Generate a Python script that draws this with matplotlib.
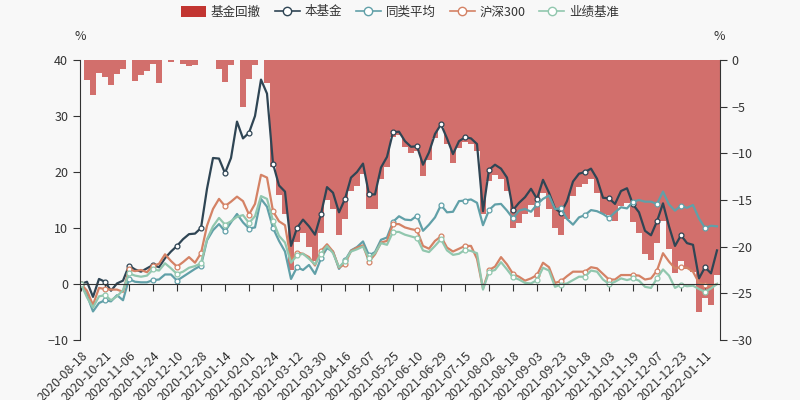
import numpy as np
import matplotlib
matplotlib.use("Agg")
import matplotlib.pyplot as plt
from matplotlib.patches import Patch
from matplotlib.lines import Line2D

plt.rcParams['font.family'] = ['Noto Sans CJK SC', 'DejaVu Sans']

# =========================
# 数据（每 3 个交易日取一个点，%）
# =========================
dates = ["2020-08-18", "2020-10-21", "2020-11-06", "2020-11-24", "2020-12-10",
         "2020-12-28", "2021-01-14", "2021-02-01", "2021-02-24", "2021-03-12",
         "2021-03-30", "2021-04-16", "2021-05-07", "2021-05-25", "2021-06-10",
         "2021-06-29", "2021-07-15", "2021-08-02", "2021-08-18", "2021-09-03",
         "2021-09-23", "2021-10-18", "2021-11-03", "2021-11-19", "2021-12-07",
         "2021-12-23", "2022-01-11"]
label_every = 12   # 每 12 个交易日一个标签
step = 3           # 数据点间隔（交易日）
n_days = 320

fund = [0.0, 0.4, -2.3, 0.9, 0.4, -1.2, 0.1, 0.6, 3.3, 2.6,
        2.2, 2.8, 3.4, 3.0, 4.6, 5.8, 6.8, 8.0, 8.9, 9.0,
        10.0, 17.0, 22.5, 22.4, 19.8, 22.5, 29.0, 26.0, 27.0, 30.0,
        36.5, 34.0, 21.5, 17.6, 16.5, 6.8, 10.0, 11.5, 10.3, 8.8,
        12.5, 17.3, 16.3, 12.8, 15.2, 19.0, 20.0, 21.5, 16.0, 16.0,
        20.8, 22.7, 27.1, 27.2, 25.5, 24.5, 24.6, 21.3, 23.5, 26.8,
        28.5, 26.0, 23.2, 25.5, 26.2, 26.0, 25.0, 13.0, 20.4, 21.3,
        20.6, 19.0, 13.2, 14.5, 15.5, 17.0, 15.2, 18.6, 16.3, 13.5,
        12.7, 14.8, 18.3, 19.7, 20.0, 20.6, 18.8, 15.4, 15.3, 14.3,
        16.6, 17.1, 14.2, 12.8, 9.5, 8.7, 11.2, 14.4, 10.3, 6.8,
        8.7, 7.3, 7.0, 1.0, 3.0, 1.9, 6.0]

peer = [0.0, -2.0, -4.9, -3.4, -2.9, -3.1, -2.0, -2.9, 0.9, 0.4,
        0.3, 0.3, 0.7, 0.8, 1.7, 1.7, 0.6, 1.3, 2.0, 2.7,
        3.3, 7.8, 9.6, 10.7, 9.4, 11.0, 12.5, 11.0, 9.9, 10.1,
        15.2, 13.8, 10.0, 7.7, 5.8, 0.9, 3.0, 2.5, 3.4, 1.8,
        4.6, 6.4, 5.8, 2.7, 4.2, 6.0, 6.6, 7.6, 5.1, 5.7,
        7.9, 8.3, 11.1, 12.1, 11.5, 11.4, 12.2, 9.5, 10.6, 11.9,
        14.1, 12.8, 12.9, 14.8, 14.9, 15.1, 14.5, 10.5, 13.2, 14.2,
        14.3, 13.1, 11.7, 13.1, 13.4, 12.9, 14.2, 15.2, 15.8, 13.4,
        13.5, 11.6, 10.6, 11.9, 12.3, 13.2, 13.0, 12.5, 11.8, 12.8,
        13.7, 13.5, 14.7, 15.0, 14.7, 14.7, 14.3, 16.5, 14.2, 13.1,
        14.0, 13.6, 14.1, 11.7, 10.0, 10.4, 10.3]

hs300 = [0.0, -1.2, -3.75, -0.7, -0.9, -1.0, -1.0, -1.4, 2.6, 2.3,
         2.5, 2.1, 3.3, 3.6, 5.3, 4.1, 3.1, 3.9, 4.8, 3.8,
         5.5, 10.4, 13.4, 15.2, 13.9, 14.7, 15.6, 14.8, 12.4, 14.3,
         19.5, 19.0, 13.0, 11.2, 10.5, 4.2, 5.6, 5.4, 4.8, 3.3,
         5.9, 7.1, 5.8, 2.9, 3.6, 5.9, 6.5, 6.9, 4.0, 5.3,
         7.4, 7.7, 10.7, 10.7, 10.1, 9.8, 9.6, 6.8, 6.3, 7.7,
         8.5, 6.5, 5.8, 6.3, 6.8, 6.8, 4.5, -0.8, 2.5, 3.1,
         4.8, 3.5, 1.8, 1.3, 0.6, 1.0, 1.6, 3.8, 3.0, 0.2,
         0.5, 1.4, 2.2, 2.2, 2.2, 3.0, 2.8, 1.8, 0.8, 0.8,
         1.6, 1.6, 1.6, 1.5, 0.8, 1.0, 2.4, 5.5, 4.0, 2.8,
         3.0, 2.9, 2.2, 0.2, -0.1, -0.4, 0.0]

bench = [0.0, -2.4, -4.2, -2.2, -2.0, -2.9, -2.2, -1.1, 1.9, 1.5,
         1.3, 1.5, 2.6, 2.4, 3.7, 2.8, 1.8, 2.2, 2.9, 3.2,
         3.7, 8.0, 10.3, 11.8, 10.6, 11.2, 12.0, 12.3, 10.9, 12.1,
         15.7, 15.2, 11.3, 8.6, 7.4, 3.8, 5.1, 5.4, 4.5, 3.5,
         5.4, 6.8, 5.5, 3.0, 4.1, 5.8, 6.2, 6.7, 4.6, 5.5,
         7.3, 7.0, 9.3, 9.3, 8.8, 8.5, 8.2, 6.0, 5.7, 6.8,
         8.0, 6.0, 5.2, 5.4, 6.1, 5.9, 5.5, -1.0, 2.2, 2.5,
         3.9, 2.6, 1.2, 0.8, 0.2, 0.1, 0.7, 2.9, 2.4, -0.5,
         -0.1, 0.1, 0.7, 1.3, 1.3, 2.4, 2.2, 0.8, 0.0, 0.4,
         1.0, 0.7, 1.0, 0.6, -0.5, -0.7, 1.0, 2.6, 1.5, -0.7,
         -0.1, -0.4, -0.3, -0.9, -1.4, -0.8, 0.0]

drawdown = [0.0, -2.1, -3.7, -1.4, -1.8, -2.7, -1.5, -1.0, 0.0, -2.3,
            -1.6, -1.2, -0.4, -2.5, 0.0, -0.2, 0.0, -0.4, -0.6, -0.5,
            0.0, 0.0, 0.0, -1.0, -2.4, -0.5, 0.0, -5.0, -2.0, -0.5,
            0.0, -2.5, -11.5, -14.5, -16.5, -22.5, -19.5, -18.5, -20.0, -21.5,
            -18.5, -15.0, -16.0, -18.8, -17.0, -14.0, -13.5, -12.2, -16.0, -16.0,
            -12.8, -11.5, -8.3, -8.0, -9.3, -10.0, -9.8, -12.4, -10.7, -8.4,
            -7.2, -9.0, -11.0, -9.4, -8.8, -9.0, -9.7, -16.5, -13.0, -12.3,
            -12.8, -14.0, -18.0, -17.5, -16.5, -15.5, -16.8, -14.3, -16.0, -18.0,
            -18.7, -17.0, -14.6, -13.6, -13.3, -12.8, -14.3, -16.5, -16.6, -17.3,
            -15.6, -15.3, -17.4, -18.5, -20.8, -21.4, -19.6, -17.3, -20.3, -22.8,
            -21.5, -22.4, -22.7, -27.0, -25.5, -26.3, -23.0]

x = np.arange(len(fund)) * step

# =========================
# 绘图
# =========================
BG = "#f8f8f8"
AXC = "#333333"
fig = plt.figure(figsize=(8, 4), dpi=100, facecolor=BG)
ax = fig.add_axes([0.1, 0.15, 0.8, 0.7])
ax2 = ax.twinx()
ax.set_zorder(2)
ax2.set_zorder(1)
ax.patch.set_visible(False)
ax2.patch.set_visible(False)

# 坐标轴线（x 轴在 0 处）——先设置，否则会重置刻度
ax.spines["bottom"].set_position(("data", 0))
for s in ["top", "right"]:
    ax.spines[s].set_visible(False)
for s in ["top", "left", "bottom"]:
    ax2.spines[s].set_visible(False)
ax.spines["left"].set_color(AXC)
ax.spines["bottom"].set_color(AXC)
ax2.spines["right"].set_color(AXC)

# 回撤柱（右轴）
ax2.bar(x, drawdown, width=step, color="#c23531", alpha=0.7, linewidth=0)
ax2.set_ylim(-30, 0)
ax2.set_yticks(range(-30, 1, 5))

# 收益曲线（左轴）
series = [(fund, "本基金", "#2f4554"),
          (peer, "同类平均", "#61a0a8"),
          (hs300, "沪深300", "#d48265"),
          (bench, "业绩基准", "#91c7ae")]
for vals, name, c in series:
    ax.plot(x, vals, color=c, linewidth=1.6, marker="o", markersize=3.5,
            markevery=4, markerfacecolor="white", markeredgecolor=c,
            markeredgewidth=0.9)

ax.set_xlim(-0.5, n_days - 0.5)
ax.set_ylim(-10, 40)
ax.set_yticks(range(-10, 41, 10))
ax.set_xticks(np.arange(len(dates)) * label_every)
ax.set_xticklabels(dates, rotation=45, ha="right", va="top", rotation_mode="anchor",
                   fontsize=9, color=AXC)

ax.tick_params(axis="x", length=5, color=AXC, pad=42)
ax.tick_params(axis="y", length=5, color=AXC, labelcolor=AXC, labelsize=9)
ax2.tick_params(axis="y", length=5, color=AXC, labelcolor=AXC, labelsize=9)

fig.text(80 / 800, 1 - 37 / 400, "%", ha="center", va="center", fontsize=9, color=AXC)
fig.text(719 / 800, 1 - 37 / 400, "%", ha="center", va="center", fontsize=9, color=AXC)

handles = [Patch(facecolor="#c23531", edgecolor="none")]
for vals, name, c in series:
    handles.append(Line2D([0], [0], color=c, linewidth=1.2, marker="o", markersize=6,
                          markerfacecolor="white", markeredgecolor=c))
labels = ["基金回撤"] + [s[1] for s in series]
fig.legend(handles, labels, loc="center", bbox_to_anchor=(0.5, 1 - 12 / 400), ncol=5,
           frameon=False, fontsize=9, handlelength=2.0, handleheight=1.0,
           handletextpad=0.4, columnspacing=1.1, labelcolor=AXC)

fig.savefig("out.png", dpi=100, facecolor=BG)
